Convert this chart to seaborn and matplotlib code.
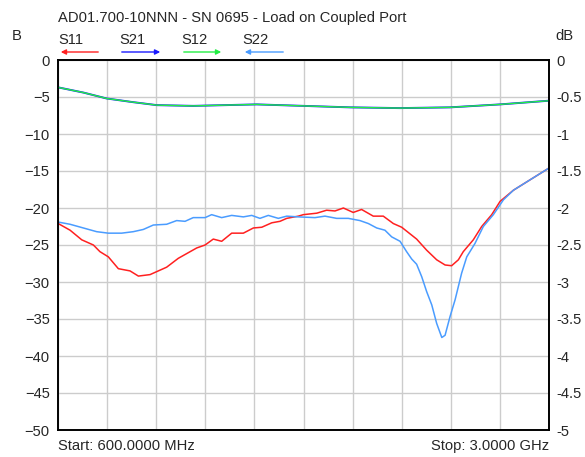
import matplotlib
matplotlib.use('Agg')
import matplotlib.pyplot as plt
from matplotlib.ticker import FuncFormatter
import seaborn as sns

# S11 (left axis, dB)
s11_freq = [601, 659, 716, 773, 805, 846, 895, 952, 993, 1050, 1131, 1188, 1278, 1319,
            1359, 1400, 1449, 1506, 1555, 1596, 1645, 1685, 1718, 1775, 1799, 1865, 1913,
            1954, 1995, 2043, 2084, 2141, 2190, 2239, 2280, 2353, 2402, 2451, 2492, 2524,
            2557, 2581, 2630, 2671, 2720, 2761, 2826, 2907, 3000]
s11 = [-22.1, -23.0, -24.3, -25.0, -25.9, -26.6, -28.2, -28.5, -29.2, -29.0, -28.0, -26.8,
       -25.4, -25.0, -24.2, -24.5, -23.4, -23.4, -22.7, -22.6, -22.0, -21.8, -21.4, -21.1,
       -20.9, -20.7, -20.3, -20.4, -20.0, -20.6, -20.2, -21.1, -21.1, -22.1, -22.6, -24.2,
       -25.7, -27.0, -27.7, -27.8, -27.0, -25.9, -24.3, -22.5, -20.9, -19.1, -17.6, -16.2,
       -14.6]

# S22 (left axis, dB)
s22_freq = [601, 659, 724, 789, 846, 911, 968, 1017, 1066, 1131, 1180, 1221, 1261, 1319,
            1351, 1400, 1449, 1506, 1547, 1587, 1628, 1677, 1718, 1775, 1856, 1905, 1962,
            2019, 2076, 2117, 2158, 2198, 2231, 2272, 2304, 2329, 2353, 2378, 2402, 2427,
            2451, 2476, 2492, 2516, 2541, 2573, 2598, 2638, 2679, 2728, 2777, 2826, 2907,
            3000]
s22 = [-21.9, -22.2, -22.7, -23.2, -23.4, -23.4, -23.2, -22.9, -22.3, -22.2, -21.7, -21.8,
       -21.3, -21.3, -20.9, -21.3, -21.0, -21.2, -21.0, -21.4, -21.0, -21.4, -21.1, -21.2,
       -21.3, -21.1, -21.4, -21.4, -21.7, -22.1, -22.7, -23.0, -23.9, -24.5, -25.9, -26.9,
       -27.6, -29.3, -31.3, -33.1, -35.6, -37.5, -37.2, -34.7, -32.4, -28.8, -26.6, -24.8,
       -22.5, -20.9, -18.9, -17.6, -16.2, -14.6]

# S21 / S12 (right axis, dB)
thru_freq = [601, 724, 838, 968, 1083, 1261, 1571, 1799, 2028, 2272, 2516, 2761, 3000]
s21 = [-0.37, -0.44, -0.52, -0.57, -0.61, -0.62, -0.60, -0.62, -0.64, -0.65, -0.64, -0.60, -0.55]
s12 = [-0.37, -0.44, -0.52, -0.57, -0.61, -0.62, -0.60, -0.62, -0.64, -0.65, -0.64, -0.60, -0.55]

left_ticks = [0, -5, -10, -15, -20, -25, -30, -35, -40, -45, -50]
right_ticks = [0, -0.5, -1, -1.5, -2, -2.5, -3, -3.5, -4, -4.5, -5]

c_s11 = '#ff2020'
c_s21 = '#1a1aff'
c_s12 = '#22ee44'
c_s22 = '#4a9cff'

sns.set_style('white')
plt.rcParams['font.family'] = ['Liberation Sans', 'DejaVu Sans']
fs = 10.6

fig = plt.figure(figsize=(5.85, 4.57), dpi=100)
ax = fig.add_axes([58 / 585, 1 - 430 / 457, 491 / 585, 370 / 457])
ax2 = ax.twinx()

sns.lineplot(x=s11_freq, y=s11, ax=ax, color=c_s11, lw=1.1)
sns.lineplot(x=s22_freq, y=s22, ax=ax, color=c_s22, lw=1.1)
sns.lineplot(x=thru_freq, y=s21, ax=ax2, color=c_s21, lw=1.4)
sns.lineplot(x=thru_freq, y=s12, ax=ax2, color=c_s12, lw=1.0)

ax.set_xlim(600, 3000)
ax.set_ylim(-50, 0)
ax2.set_ylim(-5, 0)
ax.set_xticks([600 + 240 * i for i in range(11)])
ax.set_xticklabels([])
ax.set_yticks(left_ticks)
ax2.set_yticks(right_ticks)
ax2.yaxis.set_major_formatter(FuncFormatter(lambda v, p: '%g' % v))
ax.grid(True, color='#cccccc', lw=1)
ax.tick_params(length=0, labelsize=fs, pad=6)
ax2.tick_params(length=0, labelsize=fs, pad=5)
for a in (ax, ax2):
    for s in a.spines.values():
        s.set_color('black')
        s.set_linewidth(1.2)

fig.text(58 / 585, 1 - 18 / 457, 'AD01.700-10NNN - SN 0695 - Load on Coupled Port',
         fontsize=fs, va='center', ha='left')
fig.text(12 / 585, 1 - 36 / 457, 'B', fontsize=fs, va='center', ha='left')
fig.text(574 / 585, 1 - 36 / 457, 'dB', fontsize=fs, va='center', ha='right')
fig.text(58 / 585, 1 - 446 / 457, 'Start: 600.0000 MHz', fontsize=fs, va='center', ha='left')
fig.text(549 / 585, 1 - 446 / 457, 'Stop: 3.0000 GHz', fontsize=fs, va='center', ha='right')

legend = [('S11', c_s11, 58, 101, 'left'), ('S21', c_s21, 119, 163, 'right'),
          ('S12', c_s12, 181, 224, 'right'), ('S22', c_s22, 242, 286, 'left')]
for name, col, x0, x1, d in legend:
    fig.text(x0 / 585, 1 - 40 / 457, name, fontsize=fs, va='center', ha='left')
    y = 1 - 52 / 457
    if d == 'left':
        start, end = (x1 / 585, y), (x0 / 585, y)
    else:
        start, end = (x0 / 585, y), (x1 / 585, y)
    fig.add_artist(matplotlib.patches.FancyArrowPatch(
        start, end, transform=fig.transFigure, arrowstyle='-|>,head_length=3,head_width=1.5',
        color=col, lw=1, mutation_scale=1))

fig.savefig('out.png', dpi=100)
